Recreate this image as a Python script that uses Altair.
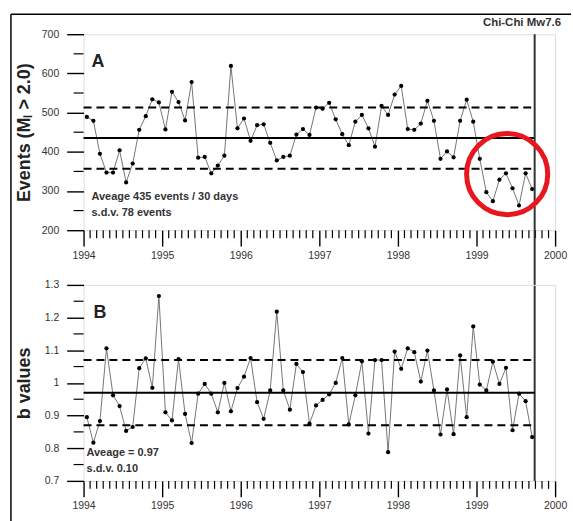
import altair as alt
import pandas as pd

# Monthly earthquake counts (M_L > 2.0) and b values, Jan 1994 - Sep 1999
events = [489, 479, 395, 347, 347, 404, 322, 370, 456, 491, 534, 526, 457, 553,
          527, 480, 578, 385, 387, 345, 365, 390, 619, 460, 485, 428, 468, 470,
          423, 378, 387, 390, 444, 458, 443, 513, 510, 525, 483, 445, 417, 477,
          494, 460, 413, 517, 494, 546, 568, 458, 456, 472, 530, 479, 382, 401,
          386, 479, 533, 477, 382, 297, 274, 329, 345, 307, 263, 345, 305]
b_values = [0.895, 0.817, 0.883, 1.106, 0.962, 0.929, 0.853, 0.865, 1.045, 1.075,
            0.985, 1.266, 0.910, 0.885, 1.073, 0.905, 0.816, 0.967, 0.997, 0.967,
            0.910, 1.000, 0.913, 0.984, 1.019, 1.076, 0.941, 0.890, 0.977, 1.218,
            0.977, 0.918, 1.058, 1.033, 0.875, 0.931, 0.948, 0.965, 1.000, 1.076,
            0.873, 0.962, 1.066, 0.845, 1.070, 1.070, 0.788, 1.096, 1.043, 1.106,
            1.094, 1.004, 1.099, 0.977, 0.842, 0.980, 0.843, 1.084, 0.895, 1.173,
            0.995, 0.977, 1.065, 0.997, 1.046, 0.855, 0.967, 0.944, 0.834]

year_ticks = [1994, 1995, 1996, 1997, 1998, 1999, 2000]
events_ticks = [200, 300, 400, 500, 600, 700]
events_minor = [250, 350, 450, 550, 650]
b_ticks = [0.7, 0.8, 0.9, 1.0, 1.1, 1.2, 1.3]
b_minor = [0.75, 0.85, 0.95, 1.05, 1.15, 1.25]

events_mean, events_sd = 435, 78
b_mean, b_sd = 0.97, 0.10
chichi_time = 1999.74
highlight_center = (1999.39, 343)

W, H, GAP = 474, 197, 55
FONT = "Liberation Sans"

times = [1994 + (i + 0.5) / 12 for i in range(len(events))]
month_ticks = [1994 + k / 12 for k in range(1, 72) if k % 12 != 0]

xscale = alt.Scale(domain=[1994, 2000], nice=False, zero=False)
xaxis = alt.Axis(values=year_ticks, format="d", tickSize=16, tickWidth=1.4,
                 tickColor="black", labelPadding=4, labelFontSize=10.5,
                 labelColor="#333", labelFont=FONT, labelFlush=False,
                 labelOverlap=False, domain=False, grid=False, title=None)


def X(field):
    return alt.X(field, type="quantitative", scale=xscale, axis=xaxis)


def panel(values, ydomain, yticks, yminor, fmt, ytitle, mean, sd, letter,
          note1, note2, note_x, note_y, letter_x, with_event=False):
    df = pd.DataFrame({"t": times, "v": values})
    yscale = alt.Scale(domain=ydomain, nice=False, zero=False)
    yaxis = alt.Axis(values=yticks, format=fmt, tickSize=17, tickWidth=1.4,
                     tickColor="black", labelPadding=8, labelFontSize=10.5,
                     labelColor="#333", labelFont=FONT, labelFlush=False,
                     labelOverlap=False, domain=False, grid=False,
                     title=ytitle, titleFont=FONT, titleFontSize=18,
                     titleFontWeight="bold", titleColor="#222", titleAngle=270,
                     titleX=-59, titleY=H / 2, titleAlign="center",
                     titleBaseline="middle")

    def Y(field):
        return alt.Y(field, type="quantitative", scale=yscale, axis=yaxis)

    line = alt.Chart(df).mark_line(color="#666", strokeWidth=0.9).encode(
        x=X("t"), y=Y("v"))
    dots = alt.Chart(df).mark_circle(size=18, color="black", opacity=1).encode(
        x=X("t"), y=Y("v"))

    ref = pd.DataFrame({"x0": [1994.0], "x1": [chichi_time], "m": [mean],
                        "lo": [mean - sd], "hi": [mean + sd]})
    mean_rule = alt.Chart(ref).mark_rule(color="black", strokeWidth=2).encode(
        x=X("x0"), x2="x1:Q", y=Y("m"))
    sd_lo = alt.Chart(ref).mark_rule(color="black", strokeWidth=2,
                                     strokeDash=[8, 5]).encode(
        x=X("x0"), x2="x1:Q", y=Y("lo"))
    sd_hi = alt.Chart(ref).mark_rule(color="black", strokeWidth=2,
                                     strokeDash=[8, 5]).encode(
        x=X("x0"), x2="x1:Q", y=Y("hi"))

    mticks = alt.Chart(pd.DataFrame({"m": month_ticks})).mark_rule(
        color="black", strokeWidth=1.2).encode(
        x=X("m"), y=alt.value(H), y2=alt.value(H + 8))
    yticks_minor = alt.Chart(pd.DataFrame({"m": yminor})).mark_rule(
        color="black", strokeWidth=1.2).encode(
        y=Y("m"), x=alt.value(-10), x2=alt.value(0))

    letter_mark = alt.Chart(pd.DataFrame({"s": [letter]})).mark_text(
        font=FONT, fontSize=18, fontWeight="bold", align="left",
        baseline="alphabetic", color="#222").encode(
        x=alt.value(letter_x), y=alt.value(33), text="s:N")
    n1 = alt.Chart(pd.DataFrame({"s": [note1]})).mark_text(
        font=FONT, fontSize=11, fontWeight="bold", align="left",
        baseline="middle", color="#333").encode(
        x=alt.value(note_x), y=alt.value(note_y), text="s:N")
    n2 = alt.Chart(pd.DataFrame({"s": [note2]})).mark_text(
        font=FONT, fontSize=11, fontWeight="bold", align="left",
        baseline="middle", color="#333").encode(
        x=alt.value(note_x), y=alt.value(note_y + 16), text="s:N")

    layers = [line, mean_rule, sd_lo, sd_hi, mticks, yticks_minor, dots,
              letter_mark, n1, n2]

    if with_event:
        # Chi-Chi main shock marker, running through both panels
        chichi = alt.Chart(pd.DataFrame({"t": [chichi_time]})).mark_rule(
            color="#333", strokeWidth=2).encode(
            x=X("t"), y=alt.value(0), y2=alt.value(H + GAP + H))
        chichi_label = alt.Chart(pd.DataFrame({"s": ["Chi-Chi Mw7.6"]})).mark_text(
            font=FONT, fontSize=11.5, fontWeight="bold", align="right",
            baseline="middle", color="#333").encode(
            x=alt.value(W + 6), y=alt.value(-11), text="s:N")
        # quiescence highlight ring
        ring = alt.Chart(pd.DataFrame({"t": [highlight_center[0]],
                                       "v": [highlight_center[1]]})).mark_point(
            shape="circle", filled=False, size=6650, strokeWidth=5,
            color="#e8161e", opacity=1).encode(x=X("t"), y=Y("v"))
        # figure frame (left and top edges)
        frame_left = alt.Chart(pd.DataFrame({"a": [0]})).mark_rule(
            color="black", strokeWidth=1.5).encode(
            x=alt.value(-73), y=alt.value(-20), y2=alt.value(500))
        frame_top = alt.Chart(pd.DataFrame({"a": [0]})).mark_rule(
            color="black", strokeWidth=1.5).encode(
            x=alt.value(-73), x2=alt.value(490), y=alt.value(-20))
        layers += [chichi, chichi_label, ring, frame_left, frame_top]

    return alt.layer(*layers).properties(width=W, height=H)


panel_a = panel(events, [200, 700], events_ticks, events_minor, "d",
                "Events (Mₗ > 2.0)", events_mean, events_sd, "A",
                "Aveage 435 events / 30 days", "s.d.v. 78 events", 8, 164, 8,
                with_event=True)
panel_b = panel(b_values, [0.7, 1.3], b_ticks, b_minor, "~g", "b values",
                b_mean, b_sd, "B", "Aveage = 0.97", "s.d.v. 0.10", 3, 169, 10)

chart = alt.vconcat(panel_a, panel_b, spacing=GAP, bounds="flush").properties(
    padding={"left": 9, "top": 11, "right": 0, "bottom": 0},
    background="white",
).configure_view(stroke="black", strokeWidth=1.5).configure(font=FONT)

chart.save("out.html", embed_options={"renderer": "svg", "actions": False})
